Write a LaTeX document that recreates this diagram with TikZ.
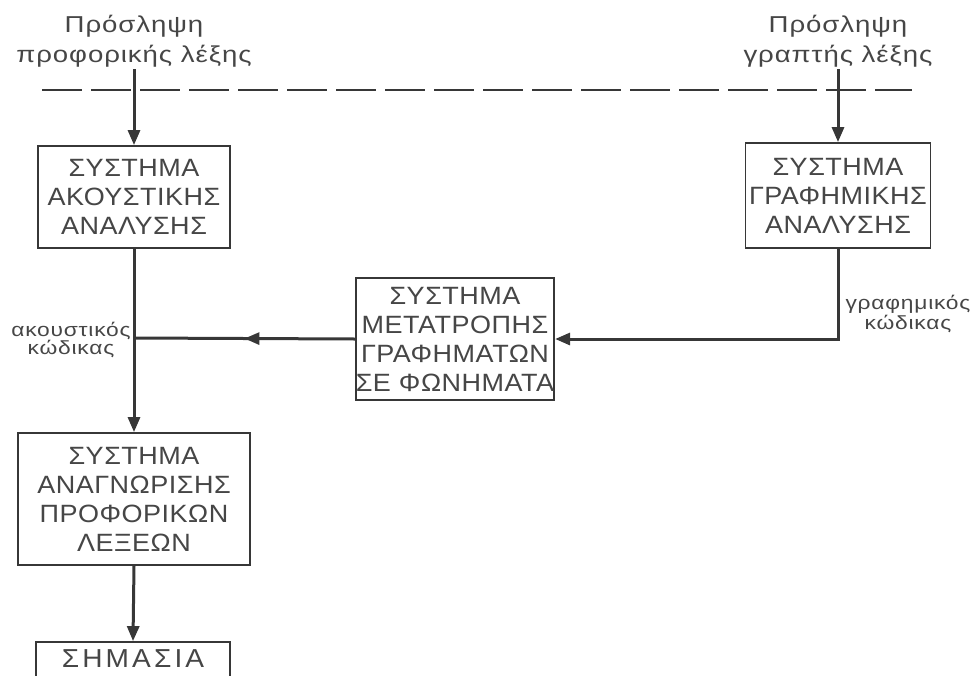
\documentclass[tikz,border=0pt]{standalone}
\usepackage{fontspec}
\setmainfont{Liberation Sans}
\newfontfamily\boxfont{Liberation Sans}[LetterSpace=2,FakeStretch=1.08]
\newfontfamily\wideboxfont{Liberation Sans}[LetterSpace=12,FakeStretch=1.08]
\newfontfamily\labfont{Liberation Sans}[LetterSpace=4,FakeStretch=1.2]
\usetikzlibrary{arrows.meta,decorations.markings}
\definecolor{ink}{RGB}{55,55,55}
\definecolor{txt}{RGB}{70,70,70}
\tikzset{
  sysbox/.style={draw=ink,line width=1.8pt,fill=white,inner sep=0pt,align=center,
    text=txt,font=\boxfont\fontsize{25}{29}\selectfont},
  toplabel/.style={align=center,text=txt,inner sep=2pt,
    font=\labfont\fontsize{23}{30}\selectfont},
  codelabel/.style={align=center,text=txt,inner sep=0pt,
    font=\labfont\fontsize{19}{18}\selectfont},
  flow/.style={draw=ink,line width=3pt,-{Triangle[width=12pt,length=15pt]}},
  plainflow/.style={draw=ink,line width=3pt},
  midarrow/.style={postaction={decorate},decoration={markings,
    mark=at position 0.5 with {\arrow{Triangle[width=12pt,length=15pt]}}}},
  divider/.style={draw=ink,line width=1.4pt,dash pattern=on 40pt off 9pt}
}
\begin{document}
\begin{tikzpicture}[x=1pt,y=-1pt]
\useasboundingbox (0,0) rectangle (980,675);
\clip (0,0) rectangle (980,675);
% top labels
\node[toplabel] (lab1) at (134,41) {Πρόσληψη\\προφορικής λέξης};
\node[toplabel] (lab2) at (838,41) {Πρόσληψη\\γραπτής λέξης};
% divider
\coordinate (dl) at (42,90);
\coordinate (dr) at (912,90);
\draw[divider] (dl) -- (dr);
% boxes
\node[sysbox,minimum width=192pt,minimum height=102pt] (ac) at (134,197) {ΣΥΣΤΗΜΑ\\ΑΚΟΥΣΤΙΚΗΣ\\ΑΝΑΛΥΣΗΣ};
\node[sysbox,minimum width=185pt,minimum height=105pt] (gr) at (838,195.5) {ΣΥΣΤΗΜΑ\\ΓΡΑΦΗΜΙΚΗΣ\\ΑΝΑΛΥΣΗΣ};
\node[sysbox,minimum width=194pt,minimum height=122pt] (cv) at (455,339) {ΣΥΣΤΗΜΑ\\ΜΕΤΑΤΡΟΠΗΣ\\ΓΡΑΦΗΜΑΤΩΝ\\ΣΕ ΦΩΝΗΜΑΤΑ};
\node[sysbox,minimum width=232pt,minimum height=132pt] (rc) at (134,499) {ΣΥΣΤΗΜΑ\\ΑΝΑΓΝΩΡΙΣΗΣ\\ΠΡΟΦΟΡΙΚΩΝ\\ΛΕΞΕΩΝ};
\node[sysbox,minimum width=194pt,minimum height=50pt,text depth=16pt,font=\wideboxfont\fontsize{26}{30}\selectfont] (sm) at (133,667) {ΣΗΜΑΣΙΑ};
% code labels
\node[codelabel] (akc) at (71,340) {ακουστικός\\κώδικας};
\node[codelabel,font=\labfont\fontsize{19}{20}\selectfont] (grc) at (908,314) {γραφημικός\\κώδικας};
% connectors
\coordinate (j) at (134,338);
\draw[flow] (lab1.south) -- (ac.north);
\draw[flow] (lab2.south) -- (gr.north);
\draw[flow] (ac.south) -- (rc.north);
\draw[flow] (gr.south) |- (cv.east);
\draw[plainflow,midarrow] (cv.west) -- (j);
\draw[flow] (rc.south) -- (sm.north);
\end{tikzpicture}
\end{document}
